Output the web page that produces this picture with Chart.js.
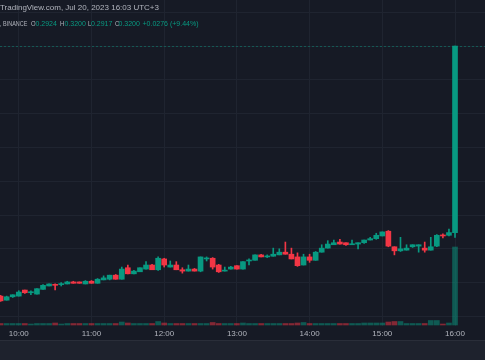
<!DOCTYPE html>
<html>
<head>
<meta charset="utf-8">
<script src="https://cdn.jsdelivr.net/npm/chart.js@4.4.0/dist/chart.umd.min.js"></script>
<style>
  html, body { margin: 0; padding: 0; background: #161a25; }
  #wrap { position: relative; width: 485px; height: 360px; overflow: hidden; }
  canvas { position: absolute; left: 0; top: 0; }
  .hdr { position: absolute; white-space: nowrap; font-family: "Liberation Sans", Arial, sans-serif; font-size: 8px; line-height: 10px; color: #b2b5be; }
  .l1 { left: 0; top: 3px; }
  .s { position: absolute; top: 18.5px; font-size: 7px; }
  .v { color: #089981; }
  .sym { display: inline-block; transform: scaleX(0.78); transform-origin: 0 50%; }
  .lab { display: inline-block; transform: scaleX(0.85); transform-origin: 0 50%; }
</style>
</head>
<body>
<div id="wrap">
  <canvas id="c" width="485" height="360"></canvas>
  <div class="hdr l1">TradingView.com, Jul 20, 2023 16:03 UTC+3</div>
  <div class="hdr s" style="left:0"><span class="sym">, BINANCE</span></div>
  <div class="hdr s" style="left:31px"><span class="lab">O</span></div>
  <div class="hdr s v" style="left:35.5px" id="vo"></div>
  <div class="hdr s" style="left:60px"><span class="lab">H</span></div>
  <div class="hdr s v" style="left:64.5px" id="vh"></div>
  <div class="hdr s" style="left:87.5px"><span class="lab">L</span></div>
  <div class="hdr s v" style="left:91px" id="vl"></div>
  <div class="hdr s" style="left:114.5px"><span class="lab">C</span></div>
  <div class="hdr s v" style="left:118.5px" id="vc"></div>
  <div class="hdr s v" style="left:142.5px" id="vchg"></div>
</div>
<script>
const times = ["09:45","09:50","09:55",
  "10:00","10:05","10:10","10:15","10:20","10:25","10:30","10:35","10:40","10:45","10:50","10:55",
  "11:00","11:05","11:10","11:15","11:20","11:25","11:30","11:35","11:40","11:45","11:50","11:55",
  "12:00","12:05","12:10","12:15","12:20","12:25","12:30","12:35","12:40","12:45","12:50","12:55",
  "13:00","13:05","13:10","13:15","13:20","13:25","13:30","13:35","13:40","13:45","13:50","13:55",
  "14:00","14:05","14:10","14:15","14:20","14:25","14:30","14:35","14:40","14:45","14:50","14:55",
  "15:00","15:05","15:10","15:15","15:20","15:25","15:30","15:35","15:40","15:45","15:50","15:55",
  "16:00"];
const opens = [0.2830,0.2824,0.2829,0.2830,0.2839,0.2835,0.2833,0.2840,0.2845,0.2847,
  0.2847,0.2848,0.2851,0.2851,0.2848,0.2852,0.2849,0.2854,0.2855,0.2861,
  0.2855,0.2872,0.2863,0.2866,0.2870,0.2876,0.2869,0.2885,0.2873,0.2876,
  0.2869,0.2867,0.2870,0.2867,0.2885,0.2886,0.2876,0.2867,0.2870,0.2875,
  0.2870,0.2882,0.2883,0.2891,0.2888,0.2889,0.2891,0.2895,0.2892,0.2888,
  0.2876,0.2888,0.2883,0.2895,0.2901,0.2906,0.2910,0.2909,0.2906,0.2907,
  0.2909,0.2913,0.2915,0.2919,0.2926,0.2903,0.2897,0.2898,0.2903,0.2904,
  0.2901,0.2898,0.2904,0.2920,0.2920,0.2924];
const highs = [0.2831,0.2830,0.2832,0.2838,0.2839,0.2838,0.2841,0.2847,0.2848,0.2848,
  0.2850,0.2852,0.2852,0.2851,0.2853,0.2853,0.2856,0.2860,0.2861,0.2862,
  0.2873,0.2876,0.2868,0.2872,0.2881,0.2877,0.2888,0.2886,0.2882,0.2881,
  0.2872,0.2876,0.2871,0.2888,0.2888,0.2887,0.2877,0.2873,0.2874,0.2875,
  0.2881,0.2885,0.2891,0.2892,0.2891,0.2901,0.2900,0.2910,0.2901,0.2894,
  0.2892,0.2892,0.2896,0.2906,0.2912,0.2913,0.2914,0.2909,0.2913,0.2909,
  0.2913,0.2917,0.2923,0.2925,0.2927,0.2903,0.2917,0.2906,0.2906,0.2906,
  0.2910,0.2917,0.2921,0.2922,0.2929,0.3200];
const lows = [0.2822,0.2824,0.2828,0.2830,0.2834,0.2832,0.2833,0.2840,0.2845,0.2839,
  0.2845,0.2848,0.2849,0.2849,0.2848,0.2849,0.2849,0.2854,0.2854,0.2855,
  0.2855,0.2863,0.2863,0.2866,0.2870,0.2869,0.2868,0.2873,0.2873,0.2869,
  0.2864,0.2867,0.2867,0.2866,0.2882,0.2870,0.2865,0.2867,0.2870,0.2870,
  0.2870,0.2876,0.2883,0.2888,0.2887,0.2889,0.2891,0.2892,0.2885,0.2874,
  0.2876,0.2880,0.2883,0.2895,0.2901,0.2906,0.2907,0.2905,0.2906,0.2900,
  0.2908,0.2913,0.2914,0.2919,0.2903,0.2891,0.2896,0.2898,0.2902,0.2895,
  0.2895,0.2898,0.2903,0.2916,0.2919,0.2917];
const closes = [0.2823,0.2829,0.2832,0.2836,0.2835,0.2835,0.2841,0.2846,0.2848,0.2846,
  0.2848,0.2851,0.2849,0.2849,0.2852,0.2849,0.2855,0.2857,0.2861,0.2855,
  0.2870,0.2863,0.2867,0.2872,0.2876,0.2869,0.2886,0.2876,0.2876,0.2869,
  0.2867,0.2870,0.2867,0.2888,0.2886,0.2873,0.2866,0.2868,0.2873,0.2870,
  0.2881,0.2883,0.2891,0.2888,0.2889,0.2892,0.2895,0.2892,0.2885,0.2875,
  0.2888,0.2883,0.2895,0.2901,0.2907,0.2909,0.2907,0.2906,0.2907,0.2909,
  0.2913,0.2915,0.2920,0.2925,0.2904,0.2897,0.2900,0.2901,0.2906,0.2906,
  0.2898,0.2903,0.2920,0.2919,0.2924,0.3200];
const volumes = [150,150,150,150,150,100,150,150,150,200,
  100,150,150,150,150,150,150,150,150,150,
  300,200,150,150,150,150,350,200,150,150,
  150,150,150,150,150,250,150,150,150,150,
  200,150,150,150,150,150,150,150,150,200,
  250,150,150,150,150,150,150,150,150,150,
  200,200,200,200,300,350,350,150,150,150,
  150,450,450,100,200,7800];
const timeTicks = ["10:00","11:00","12:00","13:00","14:00","15:00","16:00"];
const priceGrid = [0.280,0.285,0.290,0.295,0.300,0.305,0.310,0.315,0.320,0.325];

const UP = '#089981', DOWN = '#f23645';
const toMin = s => { const [h, m] = s.split(':').map(Number); return h * 60 + m; };
const xs = times.map(toMin);
const isUp = closes.map((c, i) => c >= opens[i]);
const candleColors = isUp.map(u => u ? UP : DOWN);
const volColors = isUp.map(u => u ? 'rgba(8,153,129,0.5)' : 'rgba(242,54,69,0.5)');

const last = closes.length - 1;
const chg = closes[last] - closes[last - 1];
const sgn = v => (v >= 0 ? '+' : '');
document.getElementById('vo').textContent = opens[last].toFixed(4);
document.getElementById('vh').textContent = highs[last].toFixed(4);
document.getElementById('vl').textContent = lows[last].toFixed(4);
document.getElementById('vc').textContent = closes[last].toFixed(4);
document.getElementById('vchg').textContent = sgn(chg) + chg.toFixed(4) + ' (' + sgn(chg) + (chg / closes[last - 1] * 100).toFixed(2) + '%)';

const bgPlugin = {
  id: 'bg',
  beforeDraw(chart) {
    const ctx = chart.ctx;
    ctx.save();
    ctx.fillStyle = '#161a25';
    ctx.fillRect(0, 0, chart.width, chart.height);
    ctx.fillStyle = '#1e222d';
    ctx.fillRect(0, 340, chart.width, chart.height - 340);
    ctx.fillStyle = '#2a2e39';
    ctx.fillRect(0, 340, chart.width, 1);
    ctx.restore();
  }
};
const priceLine = {
  id: 'priceLine',
  beforeDatasetsDraw(chart) {
    const ctx = chart.ctx, a = chart.chartArea;
    const y = Math.round(chart.scales.y.getPixelForValue(closes[last])) + 0.5;
    ctx.save();
    ctx.strokeStyle = 'rgba(8,153,129,0.45)';
    ctx.lineWidth = 1;
    ctx.setLineDash([2, 2]);
    ctx.beginPath();
    ctx.moveTo(a.left, y);
    ctx.lineTo(a.right, y);
    ctx.stroke();
    ctx.restore();
  }
};

new Chart(document.getElementById('c'), {
  type: 'bar',
  data: {
    datasets: [
      {
        label: 'Volume', yAxisID: 'yv',
        data: xs.map((x, i) => ({ x, y: volumes[i] })),
        backgroundColor: volColors, barThickness: 5, grouped: false, order: 3
      },
      {
        label: 'Wick', yAxisID: 'y',
        data: xs.map((x, i) => ({ x, y: [lows[i], highs[i]] })),
        backgroundColor: candleColors, barThickness: 1, grouped: false, order: 2
      },
      {
        label: 'Body', yAxisID: 'y',
        data: xs.map((x, i) => ({ x, y: [opens[i], closes[i]] })),
        backgroundColor: candleColors, barThickness: 5, minBarLength: 1, grouped: false, order: 1
      }
    ]
  },
  options: {
    responsive: false,
    animation: false,
    devicePixelRatio: 1,
    layout: { padding: { left: 0, right: 0, top: 0, bottom: 20 } },
    plugins: { legend: { display: false }, tooltip: { enabled: false } },
    scales: {
      x: {
        type: 'linear', position: 'bottom', offset: false,
        min: 584.5, max: 984.75,
        grid: { color: '#1f2430', drawTicks: false, offset: false },
        border: { display: false },
        afterFit: s => { s.height = 14; },
        afterBuildTicks: s => { s.ticks = timeTicks.map(t => ({ value: toMin(t) })); },
        ticks: {
          color: '#b2b5be', padding: 3, maxRotation: 0, autoSkip: false,
          font: { family: 'Liberation Sans', size: 8 },
          callback: v => { const h = Math.floor(v / 60), m = v % 60; return h + ':' + String(m).padStart(2, '0'); }
        }
      },
      y: {
        type: 'linear', position: 'right',
        min: 0.27858, max: 0.326805,
        grid: { color: '#1f2430', drawTicks: false },
        border: { display: false },
        afterFit: s => { s.width = 0; },
        afterBuildTicks: s => { s.ticks = priceGrid.map(v => ({ value: v })); },
        ticks: { display: false }
      },
      yv: { type: 'linear', display: false, min: -100, max: 32500 }
    }
  },
  plugins: [bgPlugin, priceLine]
});
</script>
</body>
</html>
